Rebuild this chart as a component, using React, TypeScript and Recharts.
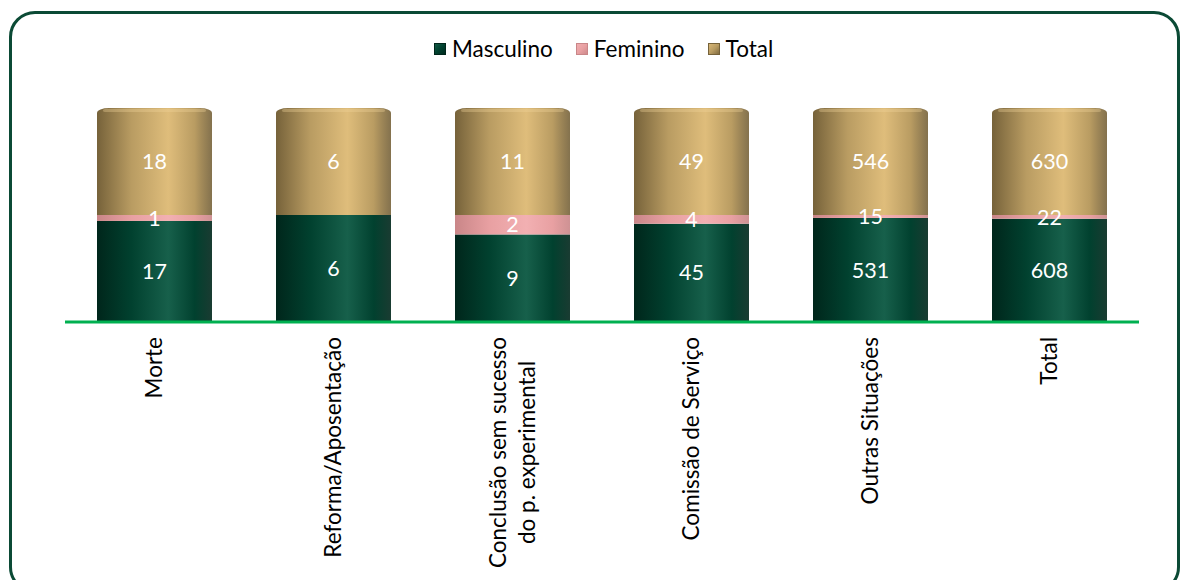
import { BarChart, Bar, XAxis, YAxis, LabelList } from 'recharts';

const categories = [
  'Morte',
  'Reforma/Aposentação',
  'Conclusão sem sucesso\ndo p. experimental',
  'Comissão de Serviço',
  'Outras Situações',
  'Total',
];
const masculino = [17, 6, 9, 45, 531, 608];
const feminino = [1, 0, 2, 4, 15, 22];
const total = [18, 6, 11, 49, 546, 630];

const data = categories.map((name, i) => ({
  name,
  masculino: masculino[i],
  feminino: feminino[i],
  total: total[i],
}));

const FONT = 'Lato, "Noto Sans", sans-serif';

const series = [
  { key: 'masculino', label: 'Masculino', grad: 'gMasc', dark: '#00261b', base: '#01412f', light: '#17604b' },
  { key: 'feminino', label: 'Feminino', grad: 'gFem', dark: '#c98688', base: '#e8a0a2', light: '#f2b0b2' },
  { key: 'total', label: 'Total', grad: 'gTot', dark: '#76623a', base: '#b99c62', light: '#dfbd7b' },
];

let measureCtx: CanvasRenderingContext2D | null = null;
function textWidth(s: string, font: string) {
  if (!measureCtx) measureCtx = document.createElement('canvas').getContext('2d');
  if (!measureCtx) return s.length * 11;
  measureCtx.font = font;
  return measureCtx.measureText(s).width;
}

function CategoryTick(props: any) {
  const { x, y, payload } = props;
  const lines = String(payload.value).split('\n');
  const fontSize = 22.5;
  const top = y + 7;
  const style = { fontFamily: FONT, fontSize, fill: '#000' };
  if (lines.length === 1) {
    return (
      <text transform={`translate(${x},${top}) rotate(-90)`} textAnchor="end" dy="0.35em" style={style}>
        {lines[0]}
      </text>
    );
  }
  const w = Math.max(...lines.map((l) => textWidth(l, `${fontSize}px ${FONT}`)));
  const lh = 29;
  return (
    <g>
      {lines.map((l, i) => (
        <text
          key={i}
          transform={`translate(${x + (i - (lines.length - 1) / 2) * lh},${top + w / 2}) rotate(-90)`}
          textAnchor="middle"
          dy="0.35em"
          style={style}
        >
          {l}
        </text>
      ))}
    </g>
  );
}

// cylinder segment, the top series gets a rounded cap
function Cylinder(props: any) {
  const { x, y, width, height, fill, cap } = props;
  if (!height || height <= 0) return null;
  if (!cap) return <rect x={x} y={y} width={width} height={height} fill={fill} />;
  const rx = 12;
  const ry = 5;
  const d = `M${x},${y + height} L${x},${y + ry} A${rx},${ry} 0 0 1 ${x + rx},${y} L${x + width - rx},${y} A${rx},${ry} 0 0 1 ${x + width},${y + ry} L${x + width},${y + height} Z`;
  return (
    <g>
      <path d={d} fill={fill} />
      <rect x={x + 6} y={y + 1} width={width - 12} height={3} fill="#f0d49a" opacity={0.35} rx={2} />
    </g>
  );
}

function LegendBox({ s }: { s: (typeof series)[number] }) {
  return (
    <span style={{ display: 'inline-flex', alignItems: 'center', marginRight: 23 }}>
      <span
        style={{
          display: 'inline-block',
          width: 12,
          height: 12,
          marginRight: 6,
          background: `linear-gradient(135deg, ${s.light}, ${s.base} 50%, ${s.dark})`,
          boxShadow: `inset 0 0 0 1px ${s.dark}`,
        }}
      />
      <span>{s.label}</span>
    </span>
  );
}

export default function App() {
  return (
    <div style={{ position: 'absolute', left: 0, top: 0, width: 1181, height: 580, overflow: 'hidden', background: '#fff' }}>
      <div
        style={{
          position: 'absolute',
          left: 9,
          top: 11,
          width: 1171,
          height: 582,
          border: '3px solid #0b4a35',
          borderRadius: 26,
          boxSizing: 'border-box',
        }}
      />
      <div
        style={{
          position: 'absolute',
          left: 434,
          top: 35,
          display: 'flex',
          fontFamily: FONT,
          fontSize: 22.5,
          color: '#000',
          lineHeight: '28px',
        }}
      >
        {series.map((s) => (
          <LegendBox key={s.key} s={s} />
        ))}
      </div>
      <BarChart
        width={1181}
        height={580}
        data={data}
        stackOffset="expand"
        margin={{ top: 108, right: 42, left: 65, bottom: 0 }}
        style={{ position: 'absolute', left: 0, top: 0 }}
      >
        <defs>
          {series.map((s) => (
            <linearGradient key={s.grad} id={s.grad} x1="0" y1="0" x2="1" y2="0">
              <stop offset="0%" stopColor={s.dark} />
              <stop offset="30%" stopColor={s.base} />
              <stop offset="62%" stopColor={s.light} />
              <stop offset="85%" stopColor={s.base} />
              <stop offset="100%" stopColor={s.dark} stopOpacity={0.9} />
            </linearGradient>
          ))}
        </defs>
        <YAxis hide domain={[0, 1]} width={0} />
        <XAxis
          dataKey="name"
          axisLine={{ stroke: '#00b050', strokeWidth: 3 }}
          tickLine={false}
          height={258}
          interval={0}
          tick={<CategoryTick />}
        />
        {series.map((s, i) => (
          <Bar
            key={s.key}
            dataKey={s.key}
            stackId="a"
            barSize={115}
            fill={`url(#${s.grad})`}
            isAnimationActive={false}
            shape={(p: any) => <Cylinder {...p} cap={i === series.length - 1} />}
          >
            <LabelList
              dataKey={s.key}
              position="center"
              formatter={(v: any) => (v === 0 ? '' : v)}
              style={{ fill: '#fff', fontFamily: FONT, fontSize: 21.5 }}
            />
          </Bar>
        ))}
      </BarChart>
    </div>
  );
}
